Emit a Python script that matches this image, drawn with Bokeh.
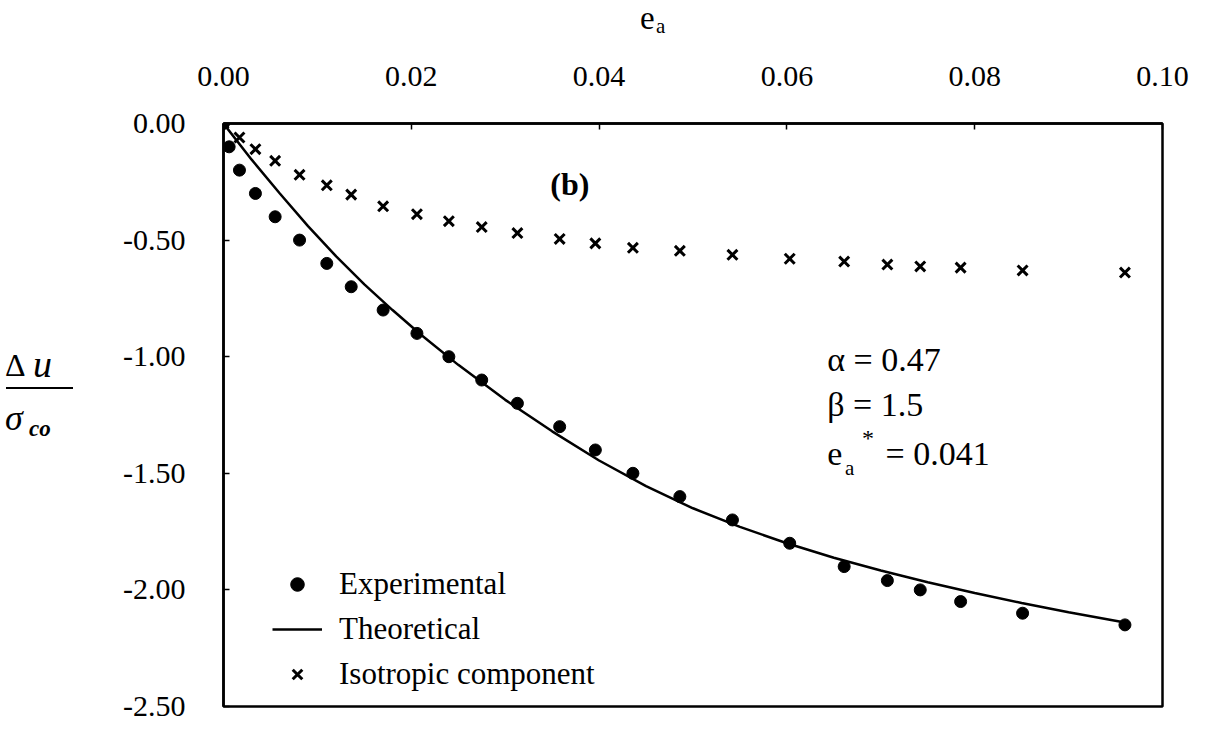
from bokeh.plotting import figure
from bokeh.models import (Range1d, FixedTicker, PrintfTickFormatter, Label,
                          Legend, LegendItem, Div)
from bokeh.layouts import column, row
from bokeh.embed import file_html
from bokeh.resources import INLINE

# ---------------- data ----------------
exp_x = [0.0, 0.0006, 0.0017, 0.0034, 0.0055, 0.0081, 0.0110, 0.0136, 0.0170, 0.0206,
         0.0240, 0.0275, 0.0313, 0.0358, 0.0396, 0.0436, 0.0486, 0.0542, 0.0603, 0.0661,
         0.0707, 0.0742, 0.0785, 0.0851, 0.0960]
exp_y = [0.0, -0.10, -0.20, -0.30, -0.40, -0.50, -0.60, -0.70, -0.80, -0.90,
         -1.00, -1.10, -1.20, -1.30, -1.40, -1.50, -1.60, -1.70, -1.80, -1.90,
         -1.96, -2.00, -2.05, -2.10, -2.15]

iso_x = [0.0, 0.0017, 0.0034, 0.0055, 0.0081, 0.0110, 0.0136, 0.0170, 0.0206,
         0.0240, 0.0275, 0.0313, 0.0358, 0.0396, 0.0436, 0.0486, 0.0542, 0.0603, 0.0661,
         0.0707, 0.0742, 0.0785, 0.0851, 0.0960]
iso_y = [0.0, -0.06, -0.11, -0.16, -0.22, -0.265, -0.305, -0.355, -0.389,
         -0.419, -0.444, -0.470, -0.495, -0.514, -0.533, -0.546, -0.563, -0.580, -0.592,
         -0.605, -0.613, -0.618, -0.630, -0.639]

theo_x = [0.0, 0.003, 0.006, 0.009, 0.012, 0.015, 0.018, 0.021, 0.025, 0.030, 0.035,
          0.040, 0.045, 0.050, 0.055, 0.060, 0.065, 0.070, 0.075, 0.080, 0.085, 0.090, 0.096]
theo_y = [0.0, -0.155, -0.30, -0.44, -0.57, -0.69, -0.80, -0.905, -1.035, -1.185, -1.32,
          -1.445, -1.555, -1.65, -1.73, -1.80, -1.862, -1.917, -1.967, -2.013, -2.056, -2.096, -2.14]

x_ticks = [0.0, 0.02, 0.04, 0.06, 0.08, 0.10]
y_ticks = [0.0, -0.5, -1.0, -1.5, -2.0, -2.5]

FONT = "Liberation Serif"

p = figure(frame_width=939, frame_height=583,
           x_range=Range1d(0, 0.1), y_range=Range1d(-2.5, 0),
           x_axis_location="above",
           min_border_left=133, min_border_right=42, min_border_top=68, min_border_bottom=17,
           output_backend="svg", toolbar_location=None, margin=0)

p.background_fill_color = "white"
p.border_fill_color = "white"
p.xgrid.visible = False
p.ygrid.visible = False
p.outline_line_color = "black"
p.outline_line_width = 2.5
p.outline_line_alpha = 1.0

for ax, ticks, standoff in [(p.xaxis[0], x_ticks, 38), (p.yaxis[0], y_ticks, 38)]:
    ax.ticker = FixedTicker(ticks=ticks)
    ax.formatter = PrintfTickFormatter(format="%.2f")
    ax.major_label_text_font = FONT
    ax.major_label_text_font_size = "30px"
    ax.major_label_text_color = "black"
    ax.major_label_standoff = standoff
    ax.axis_line_color = "black"
    ax.axis_line_width = 2.5
    ax.major_tick_in = 6
    ax.major_tick_out = 0
    ax.major_tick_line_color = "black"
    ax.major_tick_line_width = 1.5
    ax.minor_tick_line_color = None
    ax.axis_label = None

# ---------------- series ----------------
r_exp = p.scatter(exp_x, exp_y, marker="circle", size=12, fill_color="black", line_color="black")
r_theo = p.line(theo_x, theo_y, line_color="black", line_width=2.5)
r_iso = p.scatter(iso_x, iso_y, marker="x", size=14, line_color="black", line_width=3)

legend = Legend(items=[LegendItem(label="Experimental", renderers=[r_exp]),
                       LegendItem(label="Theoretical", renderers=[r_theo]),
                       LegendItem(label="Isotropic component", renderers=[r_iso])],
                location=(49, 14))
legend.border_line_color = None
legend.background_fill_alpha = 0
legend.label_text_font = FONT
legend.label_text_font_size = "31px"
legend.label_text_color = "black"
legend.glyph_width = 50
legend.glyph_height = 34
legend.label_height = 34
legend.spacing = 9
legend.padding = 0
legend.margin = 0
legend.label_standoff = 17
p.add_layout(legend)

# ---------------- texts inside the frame ----------------
def lab(text, x, y, size, style="normal"):
    p.add_layout(Label(x=x, y=y, text=text,
                       text_font=FONT, text_font_size=size, text_font_style=style,
                       text_color="black", text_baseline="middle", text_align="left"))

lab("(b)", 0.0348, -0.261, "32px", "bold")
lab("\u03b1 = 0.47", 0.0643, -1.01, "34px")
lab("\u03b2 = 1.5", 0.0643, -1.207, "34px")
lab("e", 0.0643, -1.417, "34px")
lab("a", 0.0662, -1.478, "21px")
lab("*", 0.0680, -1.350, "24px")
lab("= 0.041", 0.0705, -1.417, "34px")

# ---------------- axis titles as real HTML text ----------------
FF = "font-family:'Liberation Serif',serif;color:black;"
SP = "position:absolute;line-height:1;white-space:nowrap;" + FF
x_title = Div(width=1204, height=55, margin=0, text=(
    f"<div style=\"position:relative;width:1204px;height:55px;{FF}\">"
    f"<span style=\"{SP}left:640px;top:2px;font-size:33px;\">e</span>"
    f"<span style=\"{SP}left:656px;top:16px;font-size:21px;\">a</span>"
    "</div>"))

y_title = Div(width=90, height=668, margin=0, text=(
    f"<div style=\"position:relative;width:90px;height:668px;{FF}\">"
    f"<span style=\"{SP}left:5px;top:294px;font-size:32px;\">\u0394</span>"
    f"<span style=\"{SP}left:33px;top:290px;font-size:38px;font-style:italic;\">u</span>"
    "<div style=\"position:absolute;left:6px;top:332px;width:67px;height:2px;background:black;\"></div>"
    f"<span style=\"{SP}left:5px;top:345px;font-size:36px;font-style:italic;\">\u03c3</span>"
    f"<span style=\"{SP}left:29px;top:362px;font-size:23px;font-style:italic;font-weight:bold;\">co</span>"
    "</div>"))

layout = column(x_title, row(y_title, p, spacing=0), spacing=0)

open("out.html", "w").write(file_html(layout, INLINE))
